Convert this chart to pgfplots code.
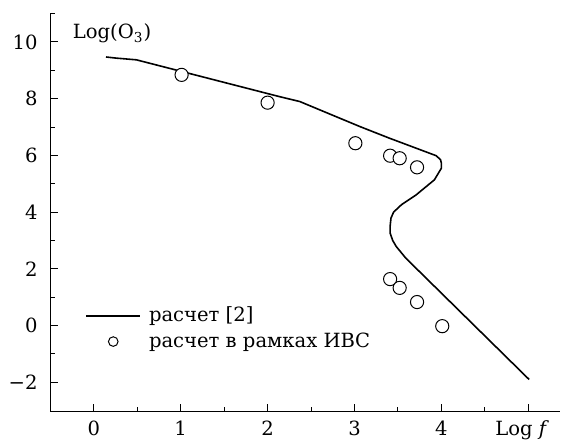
\documentclass[border=0pt]{standalone}
\usepackage{fontspec}
\setmainfont{DejaVu Serif}
\usepackage{pgfplots}
\pgfplotsset{compat=1.18}
\pgfplotsset{
  longline/.style={legend image code/.code={\draw[##1] (0cm,0cm) -- (0.95cm,0cm);}},
  midmark/.style={legend image code/.code={\draw[##1, mark size=2.4pt] plot coordinates {(0.475cm,0cm)};}},
}
\begin{document}
\fontsize{9.8pt}{11pt}\selectfont
\begin{tikzpicture}
\begin{axis}[
  x=43.5pt, y=14.2pt,
  xmin=-0.5, xmax=5.37, ymin=-3.04, ymax=11.03,
  axis x line=bottom, axis y line=left,
  axis line style={-, line width=0.6pt},
  tick align=inside,
  major tick length=4pt, minor tick length=2.5pt,
  tick style={line width=0.5pt, black},
  xtick={0,1,2,3,4,5},
  xticklabels={0,1,2,3,4,{\hspace*{-6pt}Log \textit{f}}},
  minor x tick num=1,
  ytick={-2,0,2,4,6,8,10},
  yticklabels={−2,0,2,4,6,8,10},
  minor ytick={-1,1,3,5,7,9,11},
  tick label style={font=\fontsize{9.8pt}{11pt}\selectfont},
  xticklabel style={yshift=-1pt},
  yticklabel style={xshift=-3pt},
  clip=false,
  legend style={draw=none, fill=none, at={(axis cs:-0.17,0.95)}, anchor=north west,
    font=\fontsize{9.8pt}{11pt}\selectfont, row sep=0pt,
    nodes={inner xsep=4pt}},
  legend cell align=left,
]
\addplot[black, line width=0.8pt, longline]
 coordinates {(0.14,9.47) (0.26,9.43) (0.49,9.37) (2.14,8.07) (2.37,7.90) (3.06,7.02) (3.40,6.61)
  (3.94,5.99) (3.99,5.85) (4.00,5.73) (4.00,5.55) (3.92,5.14) (3.71,4.61) (3.54,4.26) (3.45,4.0) (3.42,3.79)
  (3.41,3.50) (3.41,3.26) (3.44,3.0) (3.48,2.79) (3.59,2.38) (5.01,-1.90)};
\addlegendentry{расчет [2]}
\addplot[only marks, mark=*, mark size=3.3pt, mark options={fill=white, draw=black, line width=0.5pt}, midmark]
 coordinates {(1.01,8.84) (2.0,7.86) (3.01,6.43) (3.41,5.99) (3.52,5.90) (3.72,5.58)
  (3.41,1.64) (3.52,1.33) (3.72,0.83) (4.01,-0.02)};
\addlegendentry{расчет в рамках ИВС}
\node[anchor=center] at (axis cs:0.21,10.3) {Log(O\textsubscript{3})};
\coordinate (bl) at (axis cs:-1.08,-4.05);
\coordinate (tr) at (axis cs:5.37,11.48);
\end{axis}
\path (bl) rectangle (tr);
\end{tikzpicture}
\end{document}
